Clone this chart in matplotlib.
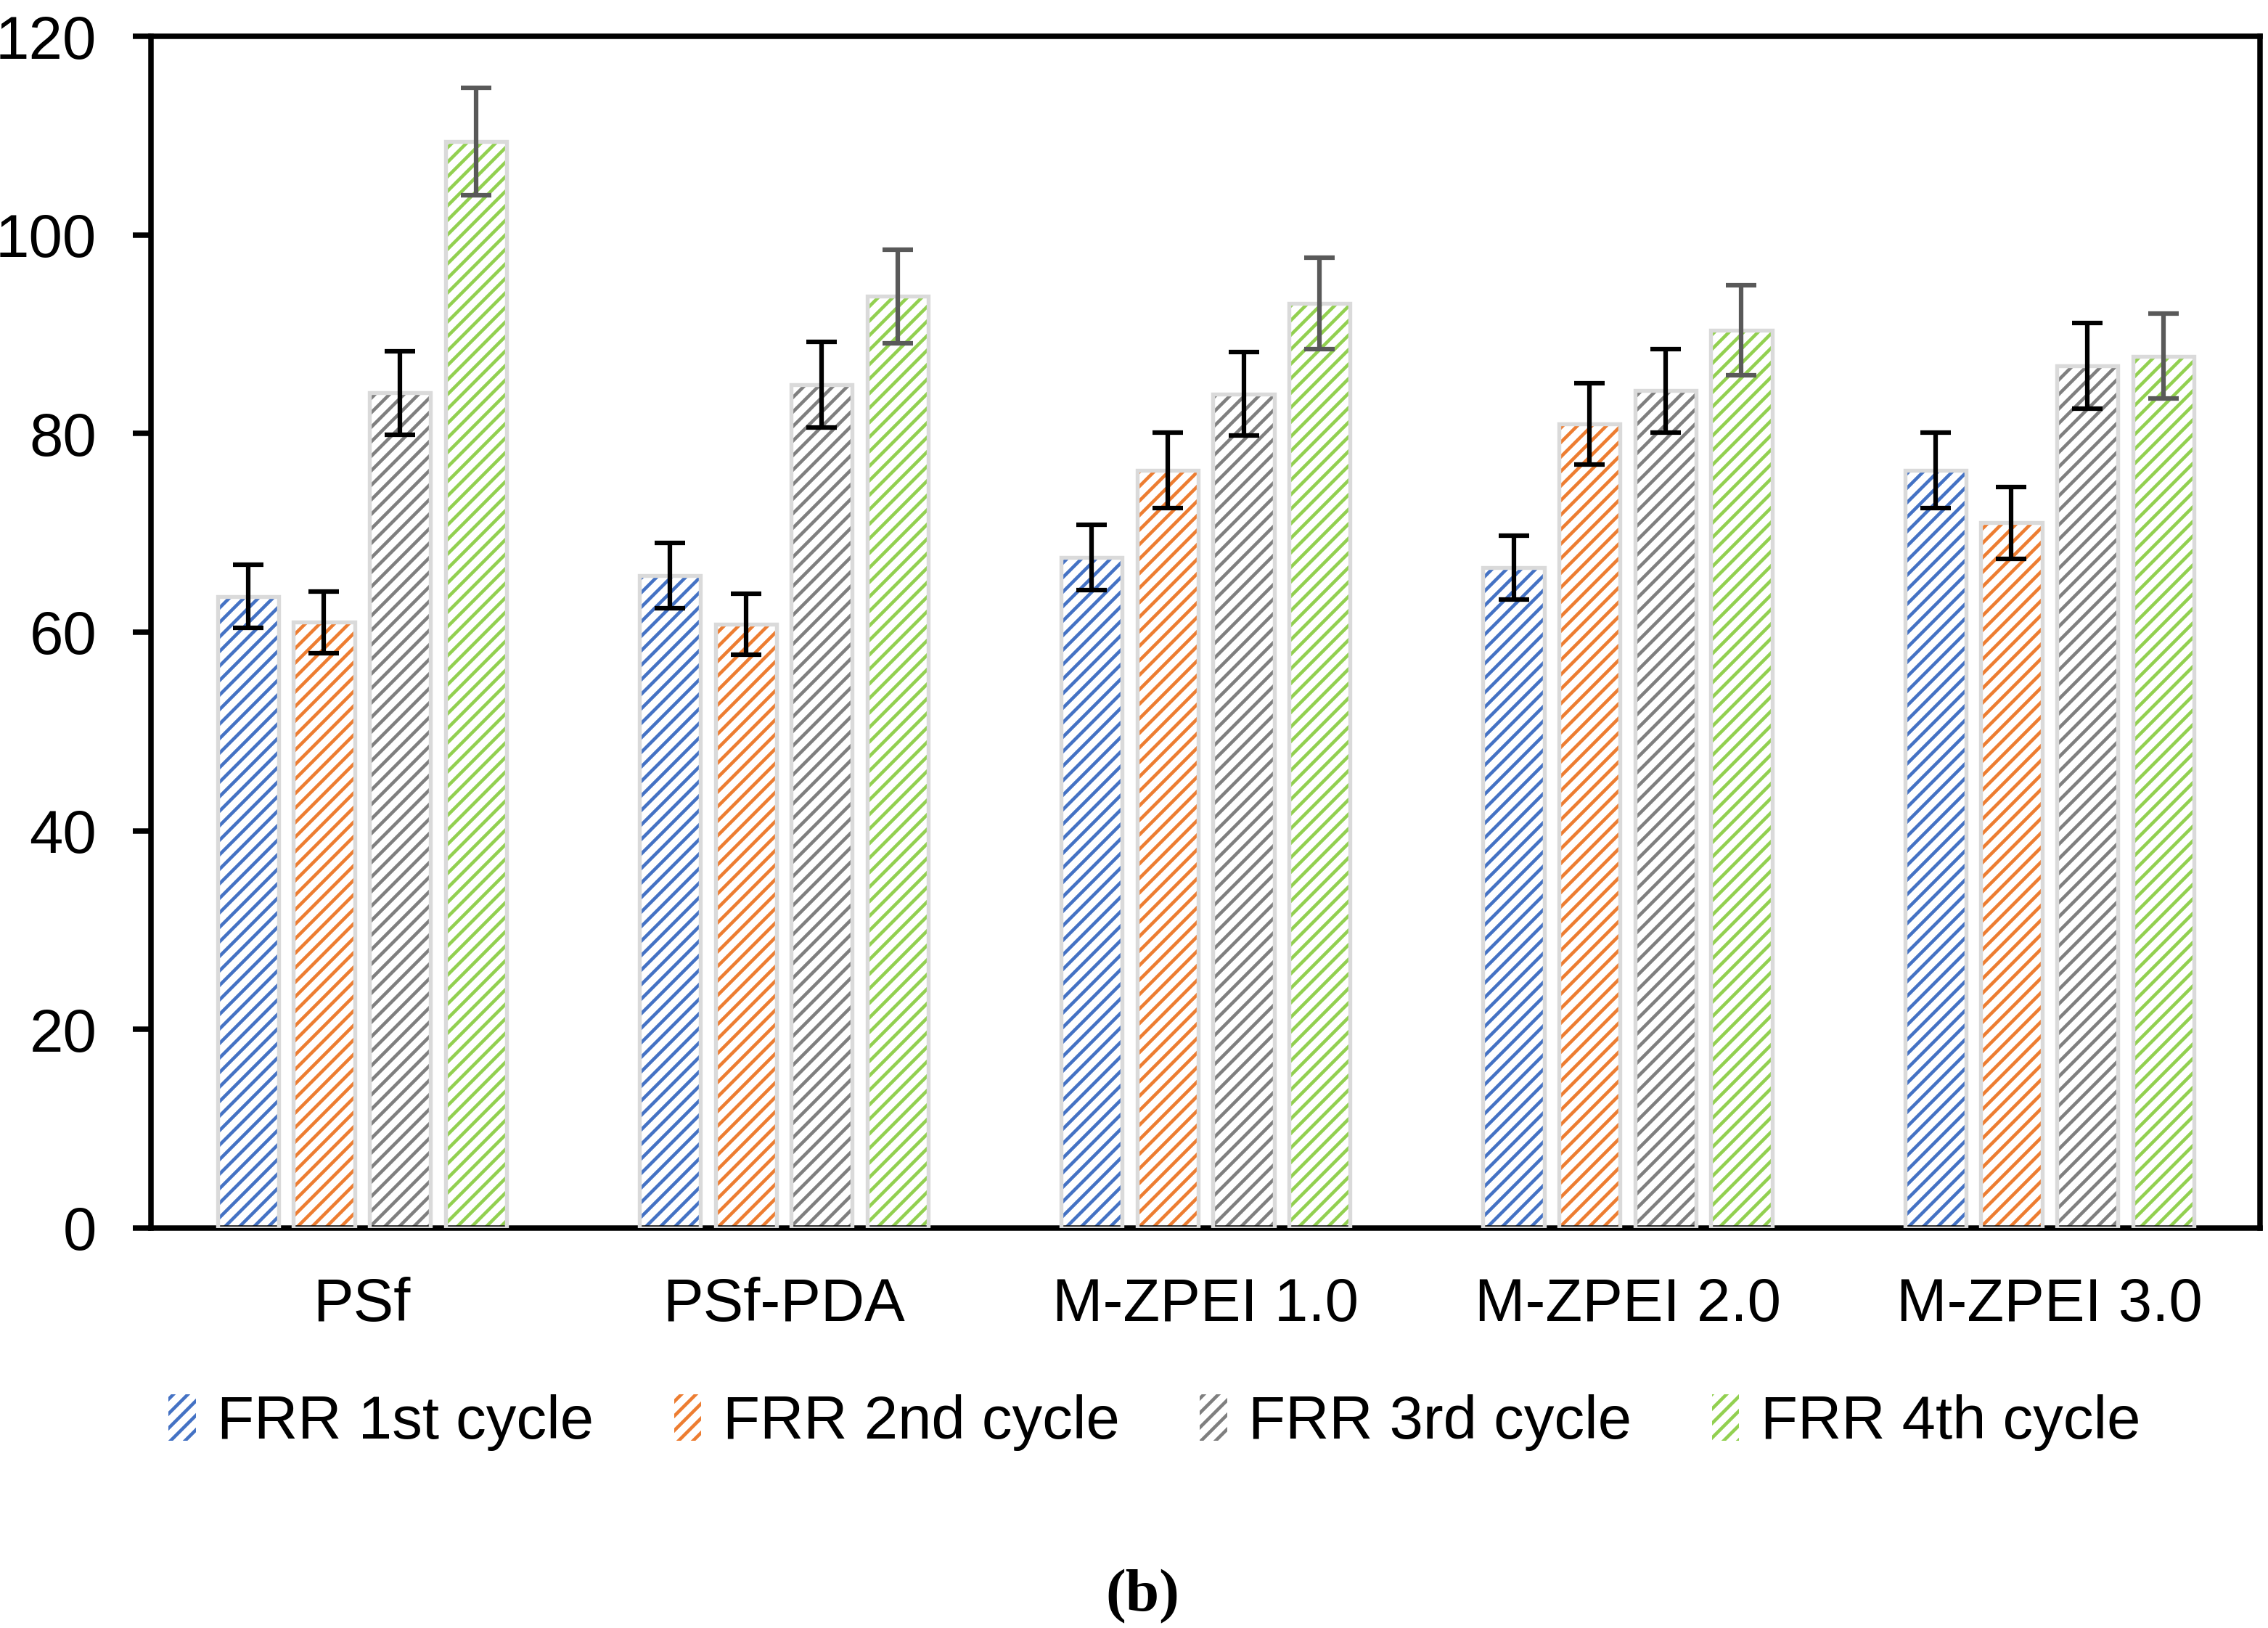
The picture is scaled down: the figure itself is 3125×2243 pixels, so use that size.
import numpy as np
import matplotlib
matplotlib.use('Agg')
import matplotlib.pyplot as plt

plt.rcParams['font.family'] = ['Liberation Sans', 'DejaVu Sans']
plt.rcParams['hatch.linewidth'] = 1.1

categories = ['PSf', 'PSf-PDA', 'M-ZPEI 1.0', 'M-ZPEI 2.0', 'M-ZPEI 3.0']
series_names = ['FRR 1st cycle', 'FRR 2nd cycle', 'FRR 3rd cycle', 'FRR 4th cycle']

frr_1st = [63.6, 65.7, 67.5, 66.5, 76.3]
frr_2nd = [61.0, 60.8, 76.3, 81.0, 71.0]
frr_3rd = [84.1, 84.9, 84.0, 84.3, 86.8]
frr_4th = [109.4, 93.8, 93.1, 90.4, 87.8]

err_1st = [3.2, 3.3, 3.3, 3.2, 3.8]
err_2nd = [3.1, 3.1, 3.8, 4.1, 3.6]
err_3rd = [4.2, 4.3, 4.2, 4.2, 4.3]
err_4th = [5.4, 4.75, 4.6, 4.5, 4.3]

values = [frr_1st, frr_2nd, frr_3rd, frr_4th]
errors = [err_1st, err_2nd, err_3rd, err_4th]
colors = ['#4472C4', '#ED7D31', '#7F7F7F', '#92D050']
err_colors = ['black', 'black', 'black', '#595959']

fig = plt.figure(figsize=(3125/300, 2243/300), dpi=300)
ax = fig.add_axes([0.0666, 0.2457, 0.93, 0.732])

x = np.arange(len(categories)) + 0.5
pitch = 0.18
width = 0.145

handles = []
for j in range(4):
    xs = x + (j - 1.5)*pitch
    b = ax.bar(xs, values[j], width, color='white', edgecolor=colors[j],
               hatch='/////', linewidth=0, label=series_names[j], zorder=2)
    # light gray border to mimic the excel shading
    ax.bar(xs, values[j], width, color='none', edgecolor='#dadada',
           linewidth=1.3, zorder=3)
    ax.errorbar(xs, values[j], yerr=errors[j], fmt='none', ecolor=err_colors[j],
                elinewidth=1.5, capsize=5, capthick=1.5, zorder=4)
    handles.append(b)

ax.set_xlim(0, 5)
ax.set_ylim(0, 120)
ax.set_yticks(range(0, 121, 20))
ax.set_xticks(x)
ax.set_xticklabels(categories)
ax.tick_params(axis='y', labelsize=20, length=6, width=1.8, pad=12, direction='out')
ax.tick_params(axis='x', labelsize=20, length=0, pad=16)
for s in ax.spines.values():
    s.set_linewidth(1.8)
    s.set_color('black')

fig.legend(handles, series_names, loc='center', bbox_to_anchor=(0.509, 1 - 1960/2243),
           ncol=4, frameon=False, fontsize=20, handlelength=0.45, handleheight=0.8,
           handletextpad=0.35, columnspacing=1.33)

fig.text(0.5037, 1 - 2200/2243, '(b)', ha='center', va='center', fontsize=20,
         family=['Liberation Serif', 'DejaVu Serif'], fontweight='bold')

fig.savefig('out.png', dpi=300)
